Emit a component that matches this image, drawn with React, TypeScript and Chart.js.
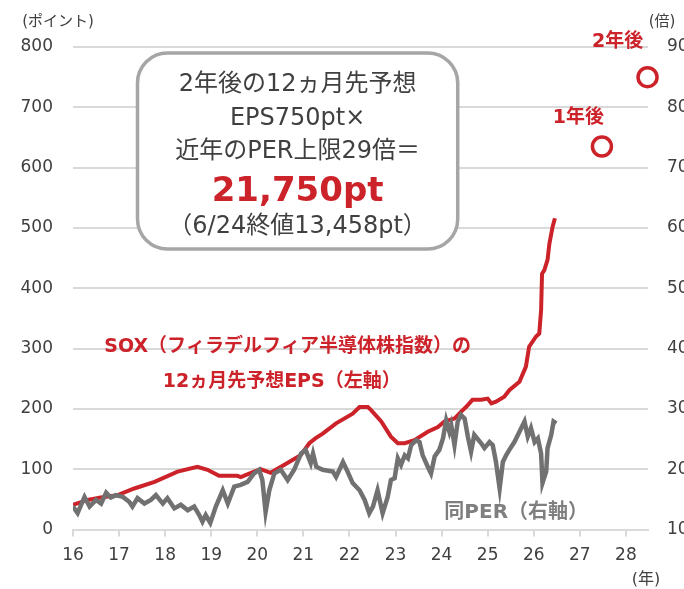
import React, { useEffect, useRef } from "react";
import { Chart, registerables } from "chart.js";

Chart.register(...registerables);

// ---- data (years as decimal, e.g. 16.5 = mid-2016) ----
const epsYears = [
  16.0, 16.32, 16.6, 16.97, 17.33, 17.77, 18.27, 18.7, 18.92, 19.17, 19.57, 19.64,
  19.93, 20.07, 20.29, 20.58, 20.94, 21.13, 21.26, 21.42, 21.71, 22.07, 22.22, 22.4,
  22.47, 22.69, 22.9, 23.05, 23.2, 23.41, 23.7, 23.92, 24.06, 24.28, 24.42, 24.53,
  24.67, 24.86, 25.0, 25.08, 25.18, 25.36, 25.47, 25.69, 25.83, 25.9, 26.05, 26.12,
  26.16, 26.18, 26.23, 26.3, 26.34, 26.41, 26.46,
];
const epsValues = [
  41, 49, 53, 57, 68, 79, 96, 104, 99, 89, 89, 87,
  96, 100, 94, 107, 123, 143, 151, 159, 176, 192, 203, 203,
  198, 179, 154, 143, 143, 148, 162, 170, 179, 184, 195, 203,
  215, 215, 217, 209, 212, 220, 231, 245, 270, 303, 320, 325,
  364, 424, 430, 447, 474, 502, 516,
];

const perYears = [
  16.0, 16.1, 16.25, 16.36, 16.5, 16.61, 16.72, 16.82, 16.93, 17.08, 17.22, 17.29,
  17.4, 17.55, 17.69, 17.8, 17.95, 18.05, 18.2, 18.34, 18.49, 18.63, 18.74, 18.81,
  18.88, 18.98, 19.1, 19.25, 19.36, 19.5, 19.64, 19.79, 19.93, 20.04, 20.11, 20.18,
  20.26, 20.37, 20.51, 20.66, 20.8, 20.95, 21.05, 21.16, 21.21, 21.28, 21.42, 21.64,
  21.71, 21.86, 21.96, 22.07, 22.22, 22.33, 22.43, 22.51, 22.61, 22.72, 22.83, 22.9,
  22.98, 23.05, 23.12, 23.2, 23.27, 23.34, 23.45, 23.52, 23.59, 23.7, 23.77, 23.85,
  23.95, 24.03, 24.1, 24.17, 24.21, 24.28, 24.35, 24.42, 24.5, 24.57, 24.64, 24.71,
  24.86, 24.93, 25.04, 25.11, 25.18, 25.26, 25.33, 25.4, 25.47, 25.58, 25.69, 25.8,
  25.87, 25.94, 26.02, 26.09, 26.16, 26.19, 26.27, 26.3, 26.38, 26.43, 26.49,
];
const perValues = [
  13.8, 12.7, 15.4, 13.8, 14.9, 14.3, 16.1, 15.3, 15.7, 15.4, 14.6, 13.8,
  15.2, 14.3, 14.9, 15.7, 14.3, 15.2, 13.5, 14.1, 13.2, 13.8, 12.4, 11.3,
  12.4, 11.1, 13.8, 16.5, 14.3, 17.1, 17.4, 17.9, 19.3, 19.9, 18.2, 12.9,
  16.5, 19.3, 19.9, 18.2, 19.9, 22.6, 23.2, 21.0, 22.6, 20.4, 19.9, 19.6,
  18.7, 21.2, 19.6, 17.7, 16.5, 14.9, 12.7, 13.8, 16.5, 12.7, 15.4, 18.2,
  18.5, 21.8, 20.7, 22.3, 21.8, 24.0, 24.8, 24.5, 22.3, 20.4, 19.3, 22.1,
  23.2, 25.1, 28.1, 26.2, 27.3, 24.0, 27.9, 29.0, 28.4, 25.4, 22.9, 25.7,
  24.3, 23.5, 24.5, 24.0, 21.2, 16.8, 21.2, 22.3, 23.2, 24.5, 26.2, 27.9,
  25.4, 26.8, 24.5, 25.1, 22.6, 17.7, 19.6, 23.5, 25.7, 27.9, 27.6,
];

const targetYears = [27.48, 28.47];
const targetValues = [635, 750];
const targetLabels = ["1年後", "2年後"];

const xMin = 16;
const xMax = 28.48;
const leftMin = 0;
const leftMax = 800;
const leftStep = 100;
const rightMin = 10;
const rightMax = 90;
const rightStep = 10;

const boxLines = ["2年後の12ヵ月先予想", "EPS750pt×", "近年のPER上限29倍＝"];
const boxHighlight = "21,750pt";
const boxNote = "（6/24終値13,458pt）";
const epsLabel = ["SOX（フィラデルフィア半導体株指数）の", "12ヵ月先予想EPS（左軸）"];
const perLabel = "同PER（右軸）";
const leftTitle = "(ポイント)";
const rightTitle = "(倍)";
const xTitle = "(年)";

const FONT = '"DejaVu Sans", "Noto Sans CJK JP", sans-serif';
const RED = "#cc2229";
const GRAY_LINE = "#717171";
const TEXT = "#404040";
const GRID = "#d9d9d9";

const CANVAS_W = 700;
const CANVAS_H = 589;

const annotationPlugin = {
  id: "annotations",
  afterDatasetsDraw(chart: any) {
    const { ctx, chartArea, scales } = chart;
    const px = (v: number) => scales.x.getPixelForValue(v);
    const py = (v: number) => scales.y.getPixelForValue(v);
    ctx.save();

    // rounded box
    const l = px(17.4);
    const r = px(24.35);
    const t = py(790);
    const b = py(465);
    ctx.beginPath();
    (ctx as any).roundRect(l, t, r - l, b - t, 30);
    ctx.fillStyle = "#ffffff";
    ctx.fill();
    ctx.lineWidth = 3.5;
    ctx.strokeStyle = "#a6a6a6";
    ctx.stroke();

    const cx = (l + r) / 2;
    ctx.textAlign = "center";
    ctx.textBaseline = "middle";
    ctx.fillStyle = TEXT;
    ctx.font = `24px ${FONT}`;
    const offs = [32, 66, 99];
    boxLines.forEach((s, i) => ctx.fillText(s, cx, t + offs[i]));
    ctx.font = `bold 34px ${FONT}`;
    ctx.fillStyle = RED;
    ctx.fillText(boxHighlight, cx, t + 139);
    ctx.font = `24px ${FONT}`;
    ctx.fillStyle = TEXT;
    ctx.fillText(boxNote, cx, t + 174);

    // EPS label
    ctx.font = `bold 19px ${FONT}`;
    ctx.fillStyle = RED;
    ctx.fillText(epsLabel[0], px(20.66), py(302));
    ctx.fillText(epsLabel[1], px(20.53), py(244));

    // target labels
    ctx.fillText(targetLabels[0], px(26.97), py(682));
    ctx.fillText(targetLabels[1], px(27.82), py(808));

    // PER label
    ctx.font = `bold 20px ${FONT}`;
    ctx.fillStyle = "#7f7f7f";
    ctx.textAlign = "left";
    ctx.fillText(perLabel, px(24.06), py(27));

    // axis titles
    ctx.fillStyle = TEXT;
    ctx.font = `15px ${FONT}`;
    ctx.textAlign = "center";
    ctx.fillText(leftTitle, chartArea.left - 15, chartArea.top - 25);
    ctx.fillText(rightTitle, chartArea.right + 14, chartArea.top - 25);
    ctx.font = `16px ${FONT}`;
    ctx.fillText(xTitle, chartArea.right - 2, chartArea.bottom + 50);

    ctx.restore();
  },
};

export default function App() {
  const ref = useRef<HTMLCanvasElement | null>(null);

  useEffect(() => {
    if (!ref.current) return;
    const chart = new Chart(ref.current, {
      type: "line",
      data: {
        datasets: [
          {
            label: "PER",
            data: perYears.map((x, i) => ({ x, y: perValues[i] })),
            yAxisID: "y1",
            borderColor: GRAY_LINE,
            borderWidth: 4.5,
            pointRadius: 0,
            tension: 0,
            order: 1,
          },
          {
            label: "EPS",
            data: epsYears.map((x, i) => ({ x, y: epsValues[i] })),
            yAxisID: "y",
            borderColor: RED,
            borderWidth: 4,
            pointRadius: 0,
            tension: 0,
            order: 2,
          },
          {
            label: "target",
            data: targetYears.map((x, i) => ({ x, y: targetValues[i] })),
            yAxisID: "y",
            showLine: false,
            pointRadius: 9.5,
            pointBorderWidth: 3.5,
            pointBorderColor: RED,
            pointBackgroundColor: "rgba(255,255,255,0)",
            clip: false as any,
            order: 0,
          },
        ],
      },
      options: {
        responsive: false,
        animation: false,
        events: [],
        layout: { padding: { top: 47, left: 0, right: 0, bottom: 0 } },
        plugins: {
          legend: { display: false },
          tooltip: { enabled: false },
          title: { display: false },
        },
        scales: {
          x: {
            type: "linear",
            min: xMin,
            max: xMax,
            afterFit: (s: any) => {
              s.height = 59.5;
            },
            ticks: {
              stepSize: 1,
              includeBounds: false,
              autoSkip: false,
              maxRotation: 0,
              color: TEXT,
              font: { family: FONT, size: 17 },
              padding: 9,
              callback: (v: any) => (Number.isInteger(v) ? String(v) : ""),
            },
            grid: {
              drawOnChartArea: false,
              drawTicks: true,
              tickLength: 7,
              color: GRID,
              lineWidth: 2,
            },
            border: { display: true, color: GRID, width: 2 },
          },
          y: {
            position: "left",
            min: leftMin,
            max: leftMax,
            afterFit: (s: any) => {
              s.width = 73;
            },
            ticks: {
              stepSize: leftStep,
              color: TEXT,
              font: { family: FONT, size: 17 },
              padding: 20,
            },
            grid: { color: GRID, lineWidth: 2, drawTicks: false },
            border: { display: false },
          },
          y1: {
            position: "right",
            min: rightMin,
            max: rightMax,
            afterFit: (s: any) => {
              s.width = CANVAS_W - 648;
            },
            ticks: {
              stepSize: rightStep,
              color: TEXT,
              font: { family: FONT, size: 17 },
              padding: 19,
            },
            grid: { display: false, drawTicks: false },
            border: { display: false },
          },
        },
      },
      plugins: [annotationPlugin],
    });
    return () => chart.destroy();
  }, []);

  return (
    <div
      style={{
        position: "fixed",
        left: 0,
        top: 0,
        width: 684,
        height: 589,
        overflow: "hidden",
        background: "#ffffff",
      }}
    >
      <canvas
        ref={ref}
        width={CANVAS_W}
        height={CANVAS_H}
        style={{ width: CANVAS_W, height: CANVAS_H, display: "block" }}
      />
    </div>
  );
}
